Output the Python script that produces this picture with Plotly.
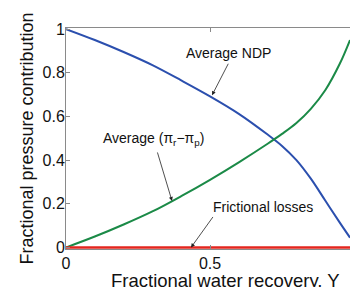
import plotly.graph_objects as go

# Fractional water recovery (x values)
recovery = [0, 0.1, 0.2, 0.3, 0.4, 0.5, 0.6, 0.7, 0.75, 0.8, 0.85, 0.9, 0.95, 0.986]
# Average osmotic pressure difference contribution (green)
avg_osmotic = [0, 0.05, 0.105, 0.165, 0.235, 0.31, 0.39, 0.475, 0.52, 0.57, 0.635, 0.72, 0.84, 0.95]
# Average NDP contribution (blue)
avg_ndp = [1, 0.95, 0.895, 0.835, 0.765, 0.692, 0.612, 0.517, 0.465, 0.40, 0.315, 0.215, 0.115, 0.045]
# Frictional losses (red)
friction = [0] * len(recovery)

x_ticks = [0, 0.5, 1]
x_ticklabels = ["0", "0.5", "1"]
y_ticks = [0, 0.2, 0.4, 0.6, 0.8, 1]
y_ticklabels = ["0", "0.2", "0.4", "0.6", "0.8", "1"]

FONT = "Liberation Sans, Arial, Helvetica, sans-serif"

fig = go.Figure()
fig.add_trace(go.Scatter(x=recovery, y=avg_ndp, mode="lines", line=dict(color="#2b4fae", width=2, shape="spline", smoothing=1), showlegend=False))
fig.add_trace(go.Scatter(x=recovery, y=avg_osmotic, mode="lines", line=dict(color="#1b8a47", width=2, shape="spline", smoothing=1), showlegend=False))
fig.add_trace(go.Scatter(x=recovery, y=friction, mode="lines", line=dict(color="#e3261f", width=2.5), showlegend=False))

ann_font = dict(family=FONT, size=14, color="#111")
arrow_kw = dict(showarrow=True, arrowhead=2, arrowsize=1, arrowwidth=0.8, arrowcolor="#222", standoff=0, text="")

# arrows (tip in data coords)
fig.add_annotation(x=0.507, y=0.697, ax=17, ay=-33, **arrow_kw)
fig.add_annotation(x=0.368, y=0.213, ax=-15, ay=-50, **arrow_kw)
fig.add_annotation(x=0.434, y=0.0, ax=23, ay=-32, **arrow_kw)

# labels
fig.add_annotation(x=0.563, y=0.89, text="Average NDP", showarrow=False, font=ann_font)
fig.add_annotation(x=0.305, y=0.495, text="Average (π<sub>r</sub>−π<sub>p</sub>)", showarrow=False, font=ann_font)
fig.add_annotation(x=0.685, y=0.185, text="Frictional losses", showarrow=False, font=ann_font)

# x-axis title (placed below the tick labels, partly cut by the window edge as in the reference)
fig.add_annotation(xref="paper", yref="paper", x=0.56, y=0, yanchor="middle", yshift=-31,
                   text="Fractional water recovery, Y", showarrow=False,
                   font=dict(family=FONT, size=18.5, color="#111"))

axis_common = dict(
    showgrid=False, zeroline=False, showline=True, linecolor="#8a8a8a", linewidth=1,
    ticks="inside", ticklen=4, tickcolor="#8a8a8a", automargin=False,
    tickfont=dict(family=FONT, size=16, color="#111"),
)

fig.update_layout(
    width=350, height=287,
    margin=dict(l=66, r=0, t=28, b=38),
    paper_bgcolor="white", plot_bgcolor="white",
    font=dict(family=FONT, color="#111"),
    xaxis=dict(range=[0, 0.986], tickvals=x_ticks, ticktext=x_ticklabels, mirror="ticks",
               ticklabelstandoff=0, **axis_common),
    yaxis=dict(range=[-0.007, 1.005], tickvals=y_ticks, ticktext=y_ticklabels,
               ticklabelstandoff=-3,
               title=dict(text="Fractional pressure contribution", font=dict(family=FONT, size=18, color="#111"), standoff=4),
               **axis_common),
)

# remove the default page margin and scrollbars so the figure fills the window exactly
fig.write_html(
    "out.html",
    config={"displayModeBar": False},
    post_script="document.documentElement.style.overflow='hidden';document.body.style.margin='0';document.body.style.overflow='hidden';",
)
